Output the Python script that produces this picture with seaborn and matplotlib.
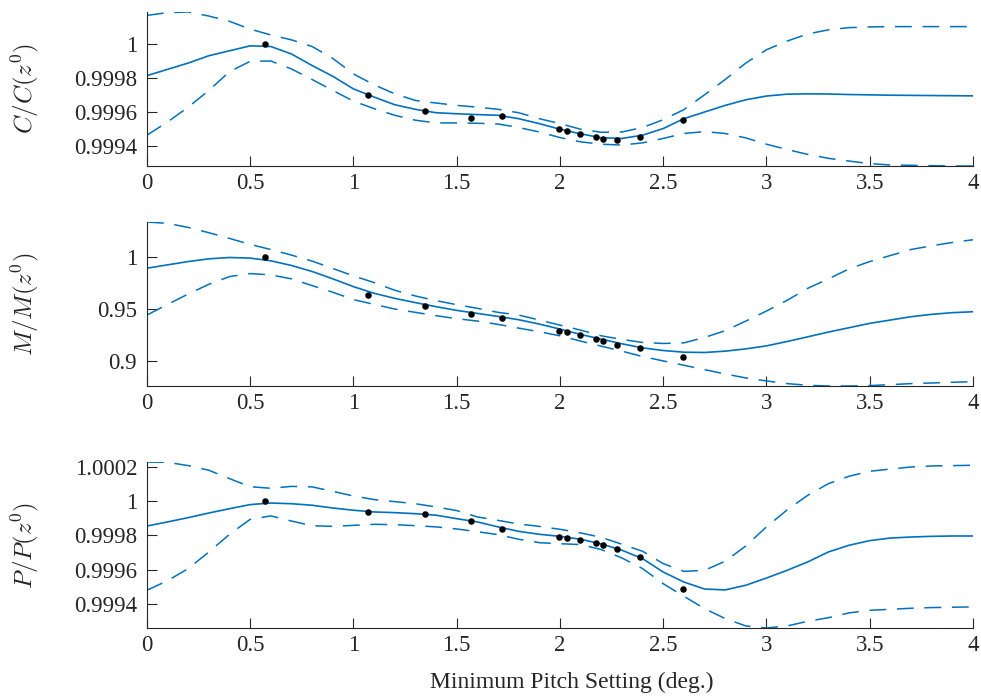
import numpy as np
import matplotlib
matplotlib.use("Agg")
import matplotlib.pyplot as plt
import seaborn as sns

# ---- data ----
pitch = [0.0, 0.1, 0.2, 0.3, 0.4, 0.5, 0.6, 0.7, 0.8, 0.9,
         1.0, 1.1, 1.2, 1.3, 1.4, 1.5, 1.6, 1.7, 1.8, 1.9,
         2.0, 2.1, 2.2, 2.3, 2.4, 2.5, 2.6, 2.7, 2.8, 2.9,
         3.0, 3.1, 3.2, 3.3, 3.4, 3.5, 3.6, 3.7, 3.8, 3.9, 4.0]

c_mean = [0.999815, 0.999852, 0.999889, 0.999932, 0.999961, 0.999990, 0.999986,
          0.999942, 0.999874, 0.999811, 0.999737, 0.999689, 0.999644, 0.999617,
          0.999597, 0.999591, 0.999586, 0.999582, 0.999562, 0.999533, 0.999500,
          0.999473, 0.999450, 0.999446, 0.999465, 0.999504, 0.999562, 0.999601,
          0.999640, 0.999673, 0.999695, 0.999706, 0.999708, 0.999707, 0.999704,
          0.999702, 0.999700, 0.999699, 0.999698, 0.999697, 0.999696]
c_upper = [1.000169, 1.000185, 1.000189, 1.000165, 1.000134, 1.000088, 1.000054,
           1.000025, 0.999986, 0.999916, 0.999825, 0.999761, 0.999708, 0.999669,
           0.999654, 0.999640, 0.999630, 0.999617, 0.999597, 0.999562, 0.999533,
           0.999500, 0.999482, 0.999484, 0.999510, 0.999556, 0.999615, 0.999702,
           0.999792, 0.999889, 0.999967, 1.000018, 1.000060, 1.000084, 1.000097,
           1.000101, 1.000103, 1.000103, 1.000103, 1.000103, 1.000103]
c_lower = [0.999465, 0.999543, 0.999630, 0.999728, 0.999839, 0.999899, 0.999901,
           0.999854, 0.999792, 0.999728, 0.999665, 0.999621, 0.999582, 0.999553,
           0.999537, 0.999537, 0.999535, 0.999531, 0.999510, 0.999484, 0.999451,
           0.999426, 0.999412, 0.999407, 0.999420, 0.999446, 0.999475, 0.999486,
           0.999475, 0.999449, 0.999412, 0.999381, 0.999352, 0.999329, 0.999313,
           0.999298, 0.999290, 0.999288, 0.999286, 0.999284, 0.999284]

m_mean = [0.9897, 0.9929, 0.9961, 0.9987, 1.0000, 0.9994, 0.9968, 0.9923, 0.9865,
          0.9794, 0.9719, 0.9655, 0.9606, 0.9565, 0.9526, 0.9490, 0.9461, 0.9432,
          0.9400, 0.9358, 0.9310, 0.9258, 0.9213, 0.9168, 0.9129, 0.9103, 0.9087,
          0.9084, 0.9097, 0.9119, 0.9148, 0.9190, 0.9235, 0.9281, 0.9323, 0.9365,
          0.9397, 0.9429, 0.9452, 0.9468, 0.9477]
m_upper = [1.0342, 1.0329, 1.0290, 1.0239, 1.0184, 1.0126, 1.0077, 1.0023, 0.9965,
           0.9894, 0.9823, 0.9758, 0.9684, 0.9629, 0.9584, 0.9545, 0.9510, 0.9471,
           0.9445, 0.9397, 0.9348, 0.9300, 0.9245, 0.9210, 0.9181, 0.9171, 0.9177,
           0.9229, 0.9294, 0.9387, 0.9484, 0.9587, 0.9703, 0.9794, 0.9890, 0.9961,
           1.0019, 1.0077, 1.0113, 1.0145, 1.0171]
m_lower = [0.9445, 0.9548, 0.9648, 0.9742, 0.9816, 0.9845, 0.9832, 0.9794, 0.9729,
           0.9665, 0.9594, 0.9548, 0.9503, 0.9471, 0.9439, 0.9410, 0.9387, 0.9355,
           0.9319, 0.9284, 0.9245, 0.9194, 0.9145, 0.9097, 0.9045, 0.9003, 0.8961,
           0.8919, 0.8877, 0.8839, 0.8810, 0.8784, 0.8768, 0.8761, 0.8761, 0.8765,
           0.8774, 0.8784, 0.8790, 0.8797, 0.8803]

p_mean = [0.999854, 0.999878, 0.999903, 0.999930, 0.999955, 0.999979, 0.999988,
          0.999984, 0.999975, 0.999959, 0.999946, 0.999936, 0.999932, 0.999926,
          0.999917, 0.999897, 0.999878, 0.999849, 0.999823, 0.999806, 0.999794,
          0.999777, 0.999750, 0.999713, 0.999664, 0.999586, 0.999528, 0.999487,
          0.999482, 0.999509, 0.999551, 0.999596, 0.999645, 0.999703, 0.999742,
          0.999769, 0.999784, 0.999790, 0.999794, 0.999796, 0.999796]
p_upper = [1.000227, 1.000225, 1.000206, 1.000179, 1.000130, 1.000083, 1.000074,
           1.000085, 1.000082, 1.000056, 1.000029, 1.000008, 0.999996, 0.999984,
           0.999965, 0.999944, 0.999907, 0.999887, 0.999866, 0.999852, 0.999835,
           0.999814, 0.999788, 0.999748, 0.999707, 0.999635, 0.999590, 0.999596,
           0.999649, 0.999738, 0.999849, 0.999948, 1.000033, 1.000101, 1.000144,
           1.000173, 1.000186, 1.000198, 1.000204, 1.000206, 1.000208]
p_lower = [0.999480, 0.999536, 0.999606, 0.999703, 0.999806, 0.999893, 0.999913,
           0.999883, 0.999856, 0.999852, 0.999858, 0.999864, 0.999862, 0.999856,
           0.999849, 0.999837, 0.999821, 0.999804, 0.999777, 0.999757, 0.999751,
           0.999746, 0.999717, 0.999668, 0.999606, 0.999518, 0.999445, 0.999373,
           0.999315, 0.999272, 0.999260, 0.999272, 0.999299, 0.999320, 0.999348,
           0.999363, 0.999369, 0.999375, 0.999379, 0.999381, 0.999383]

# sampled pitch settings (black dots)
sample_x = [0.571, 1.070, 1.346, 1.569, 1.719, 1.995, 2.034, 2.097, 2.174,
            2.208, 2.276, 2.387, 2.596]
c_samples = [1.0, 0.999702, 0.999605, 0.999566, 0.999580, 0.999500, 0.999488,
             0.999471, 0.999455, 0.999444, 0.999436, 0.999455, 0.999553]
m_samples = [1.0, 0.9639, 0.9532, 0.9452, 0.9419, 0.9294, 0.9277, 0.9248,
             0.9213, 0.9194, 0.9161, 0.9132, 0.9045]
p_samples = [1.0, 0.999936, 0.999922, 0.999882, 0.999835, 0.999792, 0.999784,
             0.999775, 0.999755, 0.999746, 0.999722, 0.999676, 0.999487]

x_ticks = [0, 0.5, 1, 1.5, 2, 2.5, 3, 3.5, 4]
x_ticklabels = ["0", "0.5", "1", "1.5", "2", "2.5", "3", "3.5", "4"]
c_ticks = [0.9994, 0.9996, 0.9998, 1.0]
c_ticklabels = ["0.9994", "0.9996", "0.9998", "1"]
m_ticks = [0.9, 0.95, 1.0]
m_ticklabels = ["0.9", "0.95", "1"]
p_ticks = [0.9994, 0.9996, 0.9998, 1.0, 1.0002]
p_ticklabels = ["0.9994", "0.9996", "0.9998", "1", "1.0002"]

# ---- style ----
sns.set_style("ticks")
plt.rcParams['font.family'] = ['Liberation Serif', 'DejaVu Serif']
plt.rcParams['mathtext.fontset'] = 'cm'

BLUE = "#0072BD"
GREY = "#262626"

fig = plt.figure(figsize=(9.81, 6.96), dpi=100)

panels = [
    ([0.1498, 0.7615, 0.842, 0.2213], c_mean, c_upper, c_lower, c_samples,
     c_ticks, c_ticklabels, r"$C/C(z^0)$"),
    ([0.1498, 0.4454, 0.842, 0.2356], m_mean, m_upper, m_lower, m_samples,
     m_ticks, m_ticklabels, r"$M/M(z^0)$"),
    ([0.1498, 0.0977, 0.842, 0.2385], p_mean, p_upper, p_lower, p_samples,
     p_ticks, p_ticklabels, r"$P/P(z^0)$"),
]

axes = []
for pos, mean, upper, lower, samples, yt, ytl, ylab in panels:
    ax = fig.add_axes(pos)
    sns.lineplot(x=pitch, y=upper, ax=ax, color=BLUE, lw=1.1,
                 linestyle=(0, (11, 7)))
    sns.lineplot(x=pitch, y=lower, ax=ax, color=BLUE, lw=1.1,
                 linestyle=(0, (11, 7)))
    sns.lineplot(x=pitch, y=mean, ax=ax, color=BLUE, lw=1.2)
    sns.scatterplot(x=sample_x, y=samples, ax=ax, color="black", s=22,
                    linewidth=0, zorder=5)

    ax.set_xlim(0, 4)
    ax.set_ylim(min(lower), max(upper))
    ax.set_xticks(x_ticks)
    ax.set_xticklabels(x_ticklabels)
    ax.set_yticks(yt)
    ax.set_yticklabels(ytl)
    ax.tick_params(direction="in", length=7, width=0.8, colors=GREY,
                   labelsize=16.5)
    ax.tick_params(axis="x", pad=5)
    ax.tick_params(axis="y", pad=7)
    for side in ["top", "right"]:
        ax.spines[side].set_visible(False)
    for side in ["left", "bottom"]:
        ax.spines[side].set_color(GREY)
        ax.spines[side].set_linewidth(0.8)
    ax.set_ylabel(ylab, fontsize=18, color=GREY)
    ax.yaxis.set_label_coords(-0.128, 0.5)
    axes.append(ax)

axes[-1].set_xlabel("Minimum Pitch Setting (deg.)", fontsize=17, color=GREY)
axes[-1].xaxis.set_label_coords(0.5145, -0.265)

fig.savefig("out.png", dpi=100)
